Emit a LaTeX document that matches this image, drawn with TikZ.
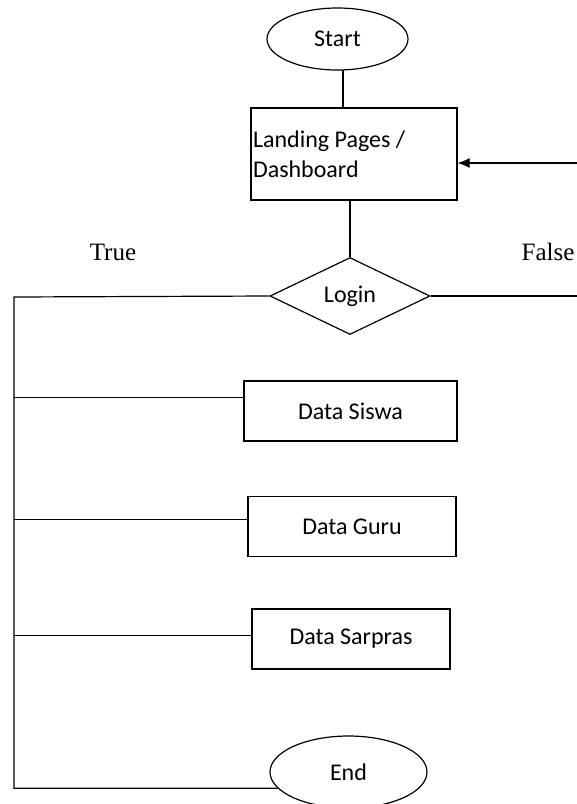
\documentclass[tikz,border=0pt]{standalone}
\usepackage{fontspec}
\setmainfont{Carlito}
\newfontfamily\labelfont{Liberation Serif}
\usepackage{tikz}
\usetikzlibrary{shapes.geometric,arrows.meta}

\begin{document}
\begin{tikzpicture}[x=1pt, y=-1pt, line width=1.2pt,
    terminal/.style={draw, ellipse, inner sep=0pt, font=\fontsize{24}{30}\selectfont},
    process/.style={draw, rectangle, inner sep=0pt, minimum height=60, font=\fontsize{24}{30}\selectfont},
    decision/.style={draw, diamond, inner sep=0pt, minimum width=160, minimum height=77, aspect=2, font=\fontsize{24}{30}\selectfont},
    branch/.style={font=\labelfont\fontsize{25}{30}\selectfont}]
    \useasboundingbox (0,0) rectangle (577,804);

    \node[terminal, minimum width=141, minimum height=62] (start) at (337.5,39) {Start};
    \node[process, minimum width=206, minimum height=92, text width=202, inner xsep=2pt, align=flush left] (landing) at (354,154) {Landing Pages /\\Dashboard};
    \node[decision] (login) at (350,296) {Login};
    \node[process, minimum width=213] (siswa) at (350.5,411) {Data Siswa};
    \node[process, minimum width=208] (guru) at (352,526.5) {Data Guru};
    \node[process, minimum width=198] (sarpras) at (351,639) {Data Sarpras};
    \node[terminal, minimum width=157, minimum height=72] (end) at (348.5,772) {End};

    \node[branch] (true) at (113,252) {True};
    \node[branch] (false) at (548,252) {False};

    \coordinate (rail) at (14,297);
    \coordinate (back) at (577,163);
    \coordinate (stem) at (343,70);

    \draw (stem) -- (stem |- landing.north);
    \draw (landing.south -| login.north) -- (login.north);
    \draw[-{Latex[length=12pt, width=10pt]}] (back) -- (back -| landing.east);
    \draw (login.east) -- (login.east -| back);
    \draw (login.west) -- (rail) -- (rail |- end.193) -- (end.193);
    \draw (rail |- siswa.173) -- (siswa.173);
    \draw (rail |- guru.176) -- (guru.176);
    \draw (rail |- sarpras.178) -- (sarpras.178);

\end{tikzpicture}
\end{document}
